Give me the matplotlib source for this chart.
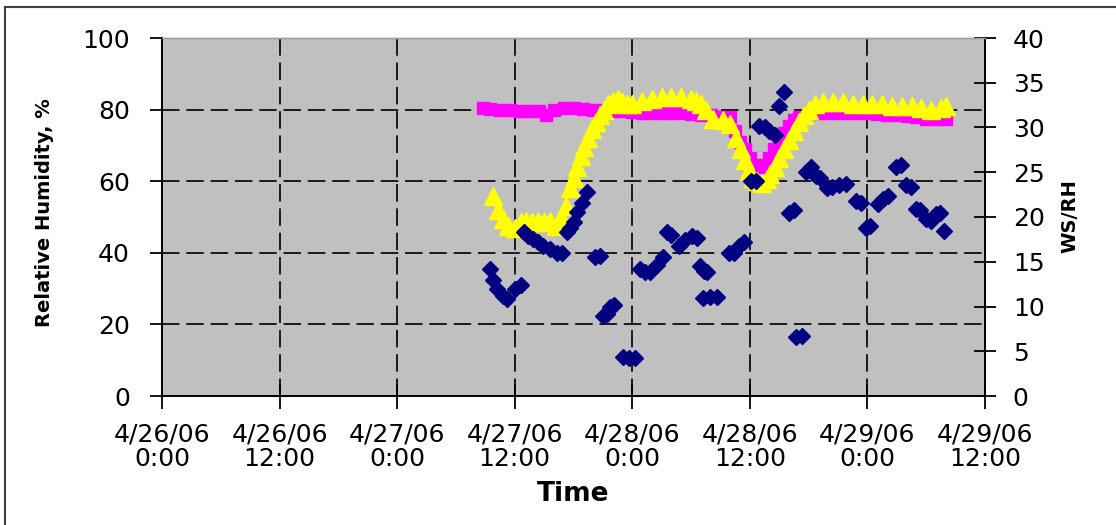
import numpy as np
import pandas as pd
import matplotlib
matplotlib.use("Agg")
import matplotlib.pyplot as plt
from matplotlib.lines import Line2D

# hours after 4/26/06 0:00 and values
start = pd.Timestamp("2006-04-26 00:00")

rh_hours = [32.8, 33.5, 34.5, 35.5, 36.5, 37.5, 38.5, 39.2, 40, 41, 42, 43, 44, 45, 46, 47,
            48, 49, 50, 51, 52, 53, 54, 55, 56, 57, 58, 58.5, 59, 59.5, 60, 60.5, 61, 61.5,
            62, 62.5, 63, 63.5, 64, 64.5, 65, 66, 67, 68, 69, 70, 71, 72, 73, 74, 75, 76,
            77, 78, 79, 80]
rh_vals = [80.5, 80.3, 80, 79.8, 79.5, 79.5, 79.5, 78.5, 80, 80.5, 80.5, 80.2, 80, 80, 79.5,
           79.5, 79.2, 79, 79, 79, 79, 79, 78.8, 78.5, 78.5, 78, 78, 74, 71, 69, 66.5, 64.5,
           64, 64.5, 66.5, 69, 71.5, 73.5, 75.5, 77, 78, 79, 79, 79, 79, 79, 79, 79, 78.8,
           78.5, 78.5, 78.3, 78, 77.5, 77.3, 77.5]

yel_hours = [33.8, 34.3, 34.8, 35.3, 36.0, 36.6, 37.2, 37.8, 38.4, 39.0, 39.6, 40.2, 40.7,
             41.2, 41.6, 42.0, 42.4, 42.8, 43.1, 43.5, 43.9, 44.3, 44.7, 45.1, 45.5, 46,
             46.5, 47, 47.5, 48, 49, 50, 51, 52, 53, 54, 54.5, 55, 55.5, 56.2, 57.3, 58,
             58.6, 59.1, 59.5, 59.9, 60.3, 60.7, 61.2, 61.7, 62.1, 62.6, 63.0, 63.5, 64.0,
             64.5, 65.0, 65.5, 66, 66.6, 67.5, 68.5, 69.5, 70.5, 71.5, 72.5, 73.5, 74.5,
             75.5, 76.5, 77.5, 78.5, 79.5, 80.0]
yel_vals = [22.4, 20.8, 19.8, 19.0, 18.8, 19.4, 19.6, 19.4, 19.6, 19.4, 19.6, 19.0, 20.0,
            21.2, 23.2, 24.4, 25.6, 26.8, 27.8, 28.8, 29.8, 30.6, 31.4, 32.0, 32.6, 33.0,
            33.2, 32.8, 32.6, 32.6, 33.0, 33.2, 33.4, 33.4, 33.4, 33.2, 33.0, 32.6, 32.0,
            31.0, 30.8, 30.4, 28.8, 27.6, 26.4, 25.2, 24.4, 24.0, 23.8, 24.2, 24.8, 25.6,
            26.6, 27.6, 28.6, 29.6, 30.6, 31.4, 32.0, 32.6, 32.8, 32.8, 32.8, 32.6, 32.6,
            32.6, 32.6, 32.4, 32.4, 32.4, 32.2, 32.0, 32.2, 32.4]

ws_hours = [33.5, 33.8, 34.2, 34.8, 35.2, 36.0, 36.6, 36.9, 37.4, 37.9, 38.4, 38.9, 39.6,
            40.3, 40.8, 41.3, 41.6, 42.0, 42.4, 42.9, 43.4, 44.2, 44.7, 45.0, 45.4, 45.7,
            46.1, 47.1, 47.7, 48.3, 48.8, 49.3, 49.8, 50.5, 51.1, 51.5, 52.0, 52.8, 53.4,
            54.1, 54.6, 54.9, 55.3, 55.6, 55.2, 55.9, 56.6, 57.9, 58.4, 58.9, 59.4, 60.1,
            60.6, 60.9, 61.5, 62.0, 62.6, 63.0, 63.5, 64.0, 64.5, 64.7, 65.3, 65.7, 66.2,
            66.8, 67.2, 67.9, 68.4, 69.1, 69.8, 70.8, 71.3, 71.9, 72.3, 73.1, 73.6, 74.1,
            74.9, 75.4, 75.9, 76.4, 77.0, 77.4, 78.0, 78.5, 79.0, 79.4, 79.8]
ws_vals = [14.2, 13.0, 11.9, 11.2, 10.8, 12.0, 12.4, 18.3, 17.9, 17.5, 17.2, 16.8, 16.4,
           16.0, 16.0, 18.3, 18.8, 19.4, 20.6, 21.6, 22.8, 15.5, 15.6, 8.9, 9.2, 10.0,
           10.2, 4.4, 4.3, 4.2, 14.2, 13.9, 13.8, 14.6, 15.5, 18.3, 18.0, 16.8, 17.4,
           17.9, 17.6, 14.5, 14.0, 13.8, 11.0, 11.1, 11.1, 16.0, 16.0, 16.8, 17.2, 24.0,
           24.0, 30.2, 30.0, 29.6, 29.2, 32.4, 34.0, 20.4, 20.8, 6.6, 6.7, 25.0, 25.6,
           24.6, 24.4, 23.2, 23.4, 23.6, 23.7, 21.8, 21.6, 18.8, 19.0, 21.5, 22.0, 22.4,
           25.6, 25.8, 23.6, 23.4, 20.9, 20.8, 19.8, 19.6, 20.3, 20.4, 18.4]

tick_hours = [0, 12, 24, 36, 48, 60, 72, 84]
tick_labels = ["4/26/06\n0:00", "4/26/06\n12:00", "4/27/06\n0:00", "4/27/06\n12:00",
               "4/28/06\n0:00", "4/28/06\n12:00", "4/29/06\n0:00", "4/29/06\n12:00"]
left_ticks = [0, 20, 40, 60, 80, 100]
right_ticks = [0, 5, 10, 15, 20, 25, 30, 35, 40]


def to_time(hours):
    return start + pd.to_timedelta(hours, unit="h")


plt.rcParams["font.family"] = ["DejaVu Sans"]

fig = plt.figure(figsize=(11.16, 5.25), dpi=100)
W, H = 1116, 525
ax = fig.add_axes([162 / W, 1 - 396 / H, (985 - 162) / W, (396 - 38) / H])
ax.set_facecolor("#C0C0C0")
ax2 = ax.twinx()

xt = to_time(tick_hours)
ax.set_xlim(xt[0], xt[-1])
ax.set_ylim(0, 100)
ax2.set_ylim(0, 40)

# dashed grid, interior lines only
for t in xt[1:-1]:
    ax.axvline(t, color="#1a1a1a", lw=1.4, ls=(0, (9, 3.5)), zorder=0.5)
for v in left_ticks[1:-1]:
    ax.axhline(v, color="#1a1a1a", lw=1.4, ls=(0, (9, 3.5)), zorder=0.5)

ax.plot(to_time(rh_hours), rh_vals, ls="none", marker="s", ms=8,
        color="#FF00FF", mec="#FF00FF", zorder=3)
ax2.plot(to_time(yel_hours), yel_vals, ls="none", marker="^", ms=13,
         color="#FFFF00", mec="#FFFF00", zorder=3)
ax2.plot(to_time(ws_hours), ws_vals, ls="none", marker="D", ms=8,
         color="#000080", mec="#000080", zorder=4)

ax.set_xticks(xt)
ax.set_xticklabels(tick_labels, fontsize=18, linespacing=1.05)
ax.set_yticks(left_ticks)
ax.set_yticklabels([str(v) for v in left_ticks], fontsize=18)
ax2.set_yticks(right_ticks)
ax2.set_yticklabels([str(v) for v in right_ticks], fontsize=18)

ax.tick_params(axis="x", direction="inout", length=18, width=1.3, pad=10)
ax.tick_params(axis="y", direction="out", length=9, width=1.3, pad=14)
ax2.tick_params(axis="y", direction="inout", length=16, width=1.3, pad=12)

for a in (ax, ax2):
    for side in ("left", "right", "bottom"):
        a.spines[side].set_color("black")
        a.spines[side].set_linewidth(1.3)
    a.spines["top"].set_color("#A0A0A0")
    a.spines["top"].set_linewidth(1)

fig.text(45 / W, 1 - 213 / H, "Relative Humidity, %", rotation=90, fontsize=14,
         fontweight="bold", ha="center", va="center")
fig.text(1070 / W, 1 - 216 / H, "WS/RH", rotation=90, fontsize=14,
         fontweight="bold", ha="center", va="center")
fig.text(573 / W, 1 - 494 / H, "Time", fontsize=19, fontweight="bold",
         ha="center", va="center")

# outer chart border (left and top edges visible)
fig.add_artist(Line2D([5 / W, 5 / W], [0, 1 - 7 / H], color="#404040", lw=1.5))
fig.add_artist(Line2D([5 / W, 1], [1 - 7 / H, 1 - 7 / H], color="#404040", lw=1.5))

fig.savefig("out.png", dpi=100)
